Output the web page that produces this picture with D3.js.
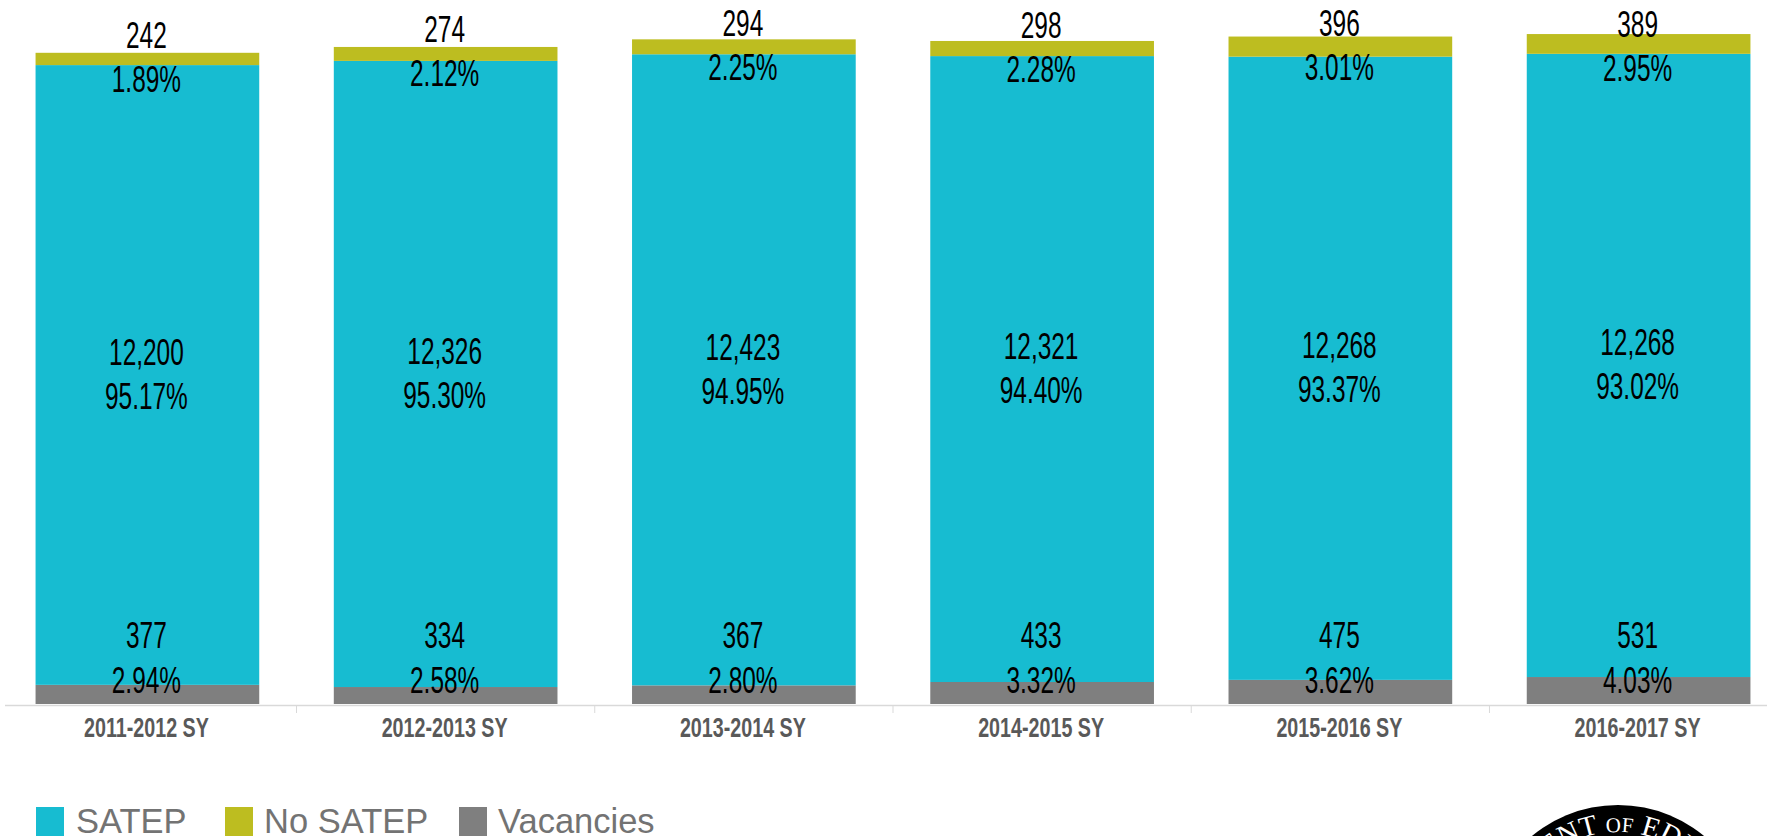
<!DOCTYPE html>
<html><head><meta charset="utf-8">
<script src="https://cdn.jsdelivr.net/npm/d3@7"></script>
<style>html,body{margin:0;padding:0;background:#fff;overflow:hidden}svg{display:block}
text{font-family:"Liberation Sans",Arial,sans-serif}</style></head>
<body><svg id="c" width="1767" height="836"></svg>
<script>
const years=["2011-2012 SY","2012-2013 SY","2013-2014 SY","2014-2015 SY","2015-2016 SY","2016-2017 SY"];
const vacancies=[377,334,367,433,475,531];
const satep=[12200,12326,12423,12321,12268,12268];
const noSatep=[242,274,294,298,396,389];
const vacanciesPct=["2.94%","2.58%","2.80%","3.32%","3.62%","4.03%"];
const satepPct=["95.17%","95.30%","94.95%","94.40%","93.37%","93.02%"];
const noSatepPct=["1.89%","2.12%","2.25%","2.28%","3.01%","2.95%"];
const legendNames=["SATEP","No SATEP","Vacancies"];
const colors={sat:"#17bcd1",no:"#bdbd20",vac:"#7f7f7f"};
// layout only: downward shift of the labels at the top of each bar
const topLabelNudge=[-2,-2,0,0,2,6];

const svg=d3.select("#c");
const xb=d3.scaleBand().domain(years).range([-39,1825]).padding(0.25);
const y=d3.scaleLinear().domain([0,12819]).range([704,52.8]);
const g=svg.append("g");
years.forEach((yr,i)=>{
  const v=vacancies[i],s=satep[i],n=noSatep[i];
  const segs=[[0,v,colors.vac],[v,v+s,colors.sat],[v+s,v+s+n,colors.no]];
  segs.forEach(d=>g.append("rect").attr("x",xb(yr)).attr("width",xb.bandwidth())
    .attr("y",y(d[1])).attr("height",y(d[0])-y(d[1])).attr("fill",d[2]));
});
// axis
const ax=svg.append("g");
ax.append("line").attr("x1",5).attr("x2",1767).attr("y1",705.5).attr("y2",705.5).attr("stroke","#d9d9d9").attr("stroke-width",1.5);
const tickOff=(xb.step()-xb.bandwidth())/2;
years.slice(1).forEach(yr=>ax.append("line").attr("x1",xb(yr)-tickOff).attr("x2",xb(yr)-tickOff).attr("y1",705).attr("y2",713).attr("stroke","#d9d9d9"));
function nar(sel,cx,base,sx){return sel.attr("text-anchor","middle").attr("transform",`translate(${cx},${base}) scale(${sx},1)`);}
const LF=37,SX=0.66;
function lab(t,cx,base){nar(svg.append("text").text(t).attr("font-size",LF).attr("fill","#000"),cx,base,SX);}
years.forEach((yr,i)=>{
  const cx=xb(yr)+xb.bandwidth()/2-1;
  const v=vacancies[i],s=satep[i],n=noSatep[i];
  const top=y(v+s+n), mid=(y(v)+y(v+s))/2;
  const base=top-3+topLabelNudge[i];
  lab(d3.format(",")(n),cx,base);
  lab(noSatepPct[i],cx,base+44);
  lab(d3.format(",")(s),cx,mid-10);
  lab(satepPct[i],cx,mid+34);
  lab(d3.format(",")(v),cx,648);
  lab(vacanciesPct[i],cx,693);
  nar(svg.append("text").text(yr).attr("font-size",27).attr("font-weight","bold").attr("fill","#595959"),cx,737,0.73);
});
// legend
const lx=[36,225,459],tx=[76,264,498],lc=[colors.sat,colors.no,colors.vac];
legendNames.forEach((t,i)=>{
  svg.append("rect").attr("x",lx[i]).attr("y",807).attr("width",28).attr("height",29).attr("fill",lc[i]);
  svg.append("text").text(t).attr("x",tx[i]).attr("y",833).attr("font-size",34.5).attr("fill","#737373");
});
// seal
const sc={x:1618,y:940,r:135};
svg.append("circle").attr("cx",sc.x).attr("cy",sc.y).attr("r",sc.r).attr("fill","#000");
svg.append("circle").attr("cx",sc.x).attr("cy",sc.y).attr("r",sc.r-32).attr("fill","#fff");
svg.append("path").attr("id","sealArc").attr("fill","none").attr("d",d3.arc()({innerRadius:sc.r-27,outerRadius:sc.r-27,startAngle:-0.7,endAngle:0.7})).attr("transform",`translate(${sc.x},${sc.y})`);
const tp=svg.append("text").attr("fill","#fff").style("font-family","'Liberation Serif',serif").attr("font-size",29)
  .append("textPath").attr("href","#sealArc").attr("startOffset","25%").attr("text-anchor","middle");
tp.append("tspan").text("MENT ");
tp.append("tspan").attr("font-size",21).text("OF");
tp.append("tspan").text(" EDUC");
</script></body></html>
